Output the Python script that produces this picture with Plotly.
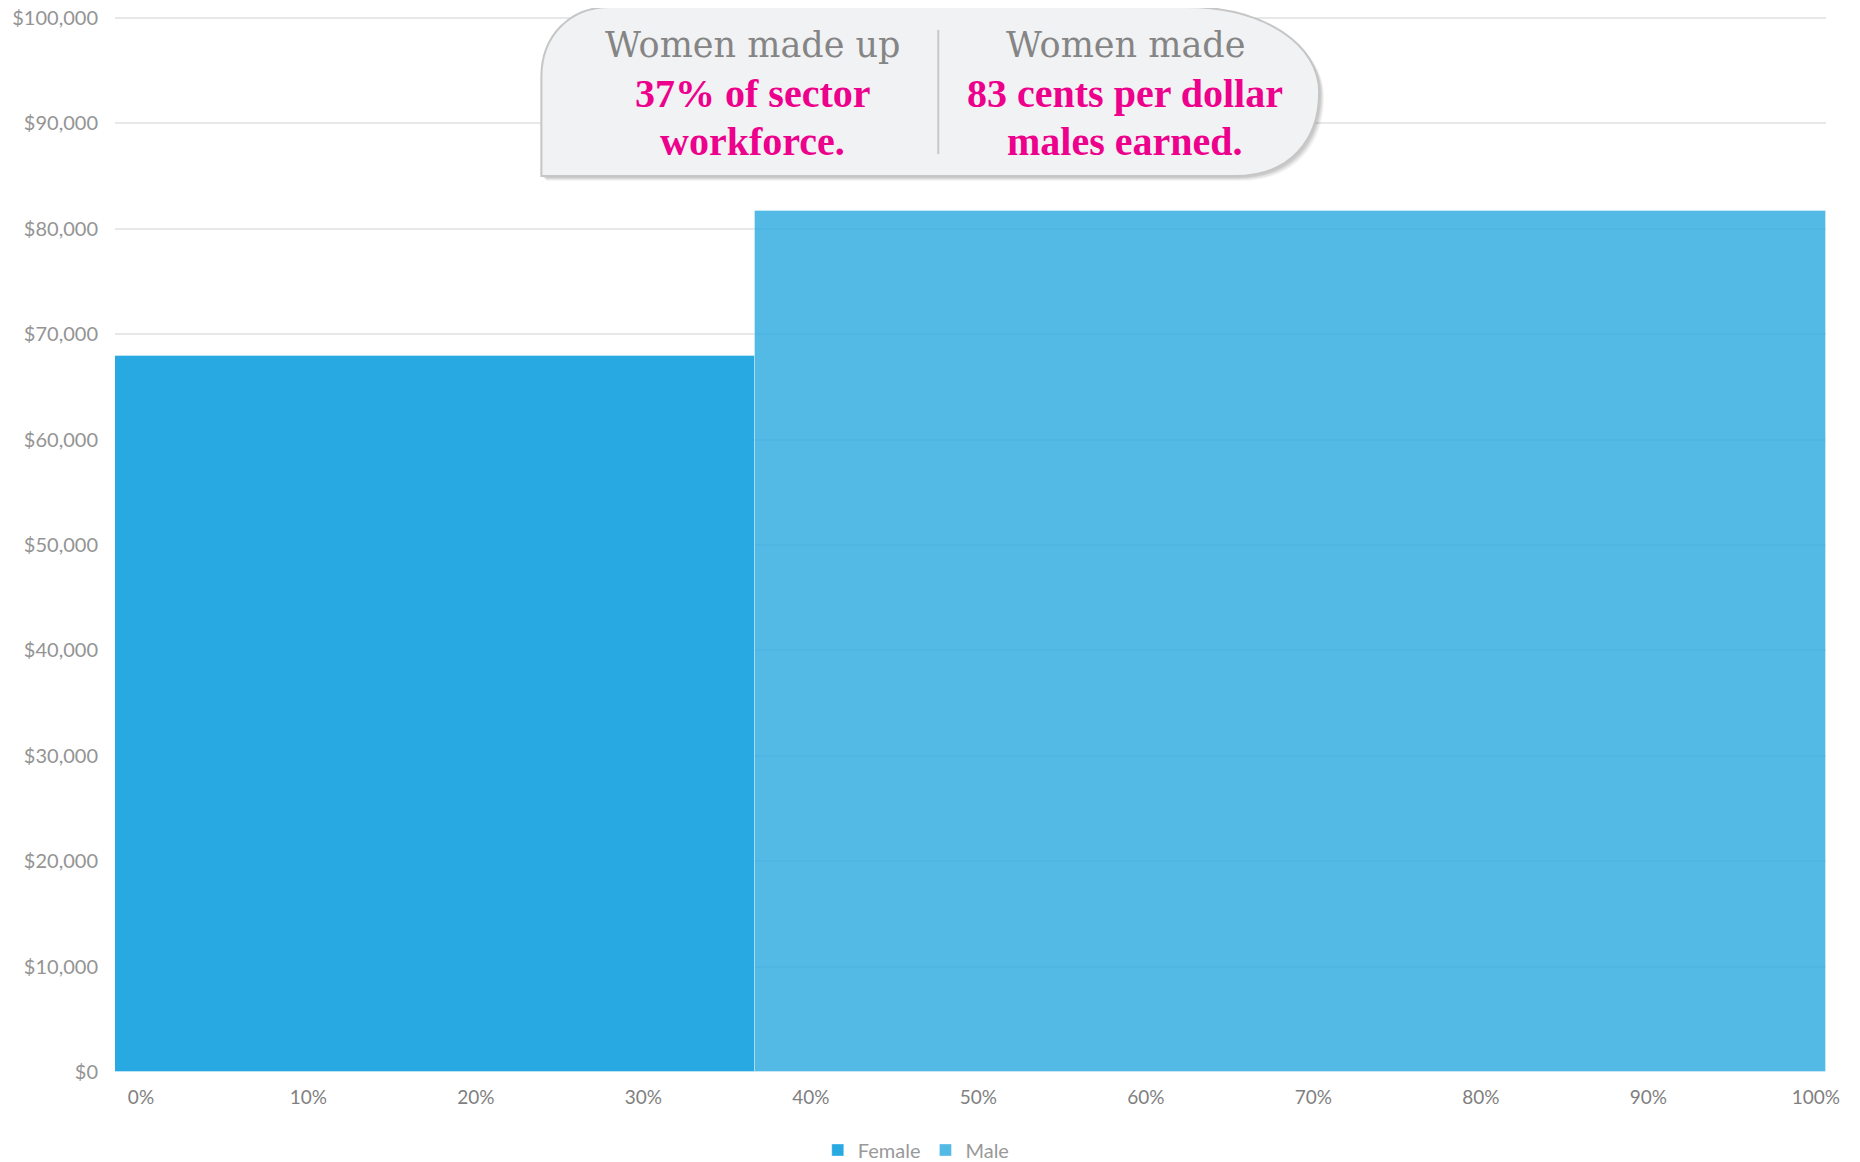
import plotly.graph_objects as go

# data
groups = ['Female', 'Male']
workforce_share = [37.4, 62.6]          # % of sector workforce
median_pay = [67900, 81700]             # $ per year
colors = ['#29a9e1', '#29a9e1']
opacities = [1.0, 0.8]

y_ticks = list(range(0, 100001, 10000))
x_ticks = list(range(0, 101, 10))

callout_left = ['Women made up', '37% of sector', 'workforce.']
callout_right = ['Women made', '83 cents per dollar', 'males earned.']

# target screen geometry (page body adds an 8px margin)
OFF = 8
W, H = 1860, 1162
L, R, T, B = 114.5, 34, 18, 90
pw, ph = W - L - R, H - T - B
PAD = 3   # extra px above the top tick so its gridline is drawn


def px(x):
    return (x - L) / pw


def py(y):
    return (H - B - y) / (ph + PAD)


fig = go.Figure()

# variable-width bars: x position = running share of workforce
start = 0
for g, share, pay, c, op in zip(groups, workforce_share, median_pay, colors, opacities):
    fig.add_trace(go.Bar(
        x=[start + share / 2], y=[pay], width=[share], name=g,
        marker=dict(color=c, line=dict(color='rgba(255,255,255,0.35)', width=1)),
        opacity=op, hoverinfo='name+y'))
    start += share

# empty trace so the tick-label axis is drawn
fig.add_trace(go.Scatter(x=[], y=[], xaxis='x2', showlegend=False))


# callout box (screen pixel coords converted to paper)
def box_path(dx=0, dy=0):
    pts = [
        ('M', [(541, 176)]),
        ('L', [(541, 77)]),
        ('C', [(541, 35), (570, 7), (610, 7)]),
        ('L', [(1185, 7)]),
        ('C', [(1265, 7), (1319, 45), (1319, 92)]),
        ('C', [(1319, 140), (1290, 176), (1235, 176)]),
    ]
    s = ''
    for cmd, ps in pts:
        s += cmd + ' '.join('%.5f,%.5f' % (px(x + dx), py(y + dy)) for x, y in ps)
    return s + 'Z'


shapes = []
for k, a in [(5, 0.04), (4, 0.05), (3, 0.06), (2, 0.07)]:
    shapes.append(dict(type='path', xref='paper', yref='paper', path=box_path(k, k),
                       fillcolor='rgba(0,0,0,%s)' % a, line=dict(width=0), layer='above'))
shapes.append(dict(type='path', xref='paper', yref='paper', path=box_path(),
                   fillcolor='#f1f2f4', line=dict(color='#c6c6c6', width=2), layer='above'))
shapes.append(dict(type='line', xref='paper', yref='paper', x0=px(938), x1=px(938),
                   y0=py(30), y1=py(154), line=dict(color='#c8c8c8', width=2), layer='above'))

annotations = []
line_y = [45, 93, 141]
for col_x, lines in [(752, callout_left), (1125, callout_right)]:
    for i, (txt, yy) in enumerate(zip(lines, line_y)):
        if i == 0:
            f = dict(family='DejaVu Serif', size=35, color='#858585')
        else:
            f = dict(family='Liberation Serif', size=40, color='#ec008c')
            txt = '<b>' + txt + '</b>'
        annotations.append(dict(xref='paper', yref='paper', x=px(col_x), y=py(yy),
                                xanchor='center', yanchor='middle', text=txt,
                                showarrow=False, font=f))

ymax = 100000 * (ph + PAD) / ph

fig.update_layout(
    width=W - OFF, height=H - OFF,
    margin=dict(l=L - OFF, r=R, t=T - OFF - PAD, b=B, autoexpand=False),
    paper_bgcolor='white', plot_bgcolor='white',
    bargap=0,
    font=dict(family='Lato', size=19, color='#999999'),
    xaxis=dict(range=[0, 100], showticklabels=False, showgrid=False, zeroline=False,
               fixedrange=True),
    xaxis2=dict(overlaying='x', anchor='y', side='bottom',
                range=[-(140.5 - L) / 16.753, 100 + (L + pw - 1815.8) / 16.753],
                tickvals=x_ticks, ticktext=['%d%%' % v for v in x_ticks],
                showgrid=False, zeroline=False, ticks='',
                tickfont=dict(family='Lato', size=19, color='#7f7f7f'),
                ticklabelstandoff=12, ticklabeloverflow='allow'),
    yaxis=dict(range=[0, ymax], tickvals=y_ticks,
               ticktext=['${:,}'.format(v) for v in y_ticks],
               showgrid=True, gridcolor='#e8e8e8', gridwidth=1.5, zeroline=False,
               ticks='', ticklabelstandoff=16, ticklabeloverflow='allow',
               tickfont=dict(family='Lato', size=20, color='#949494')),
    legend=dict(orientation='h', x=px(916), xanchor='center', y=py(1150), yanchor='middle',
                font=dict(family='Lato', size=20, color='#999999'), itemwidth=30),
    shapes=shapes,
    annotations=annotations,
)

fig.write_html('out.html')
